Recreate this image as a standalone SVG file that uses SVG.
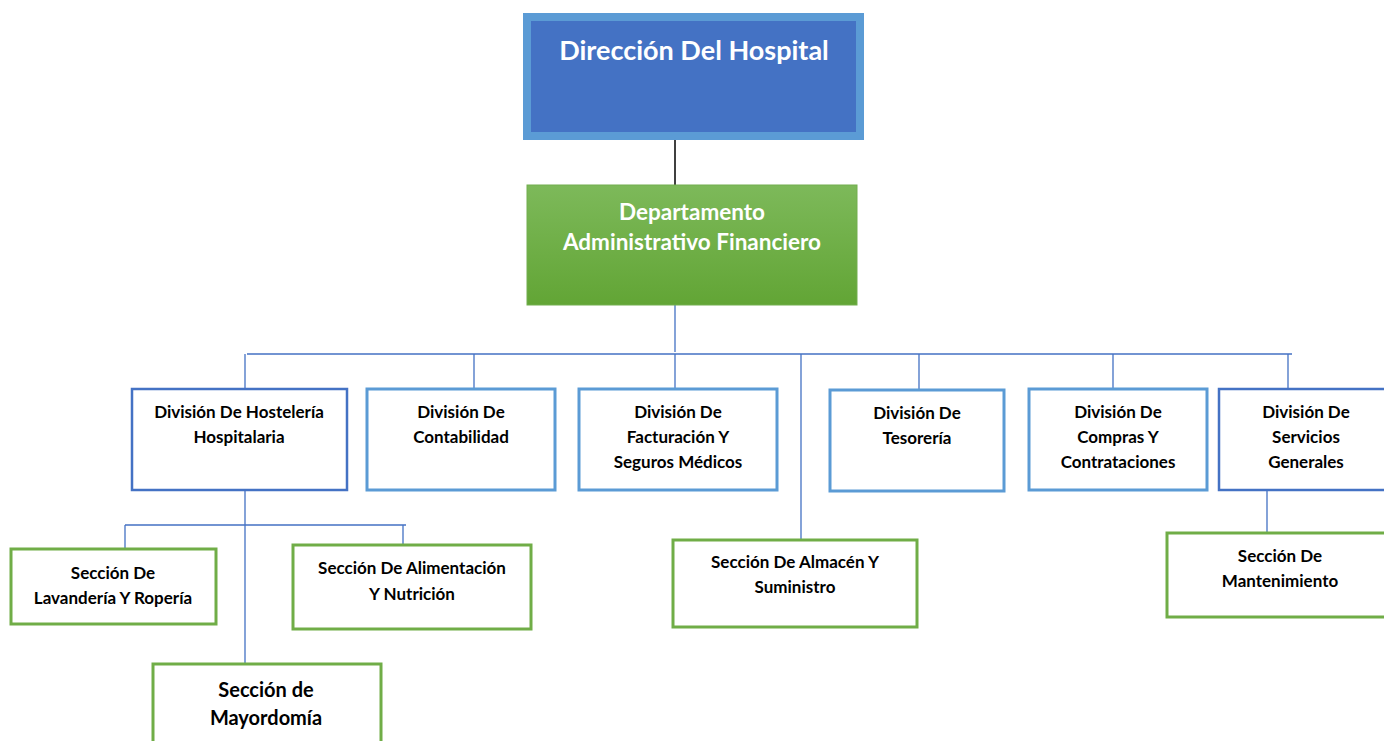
<svg xmlns="http://www.w3.org/2000/svg" width="1384" height="741" viewBox="0 0 1384 741">
<defs>
<linearGradient id="gGreen" x1="0" y1="0" x2="0" y2="1">
<stop offset="0" stop-color="#7DB95A"/>
<stop offset="1" stop-color="#62A535"/>
</linearGradient>
<style>
text{font-family:Lato,"Liberation Sans",sans-serif;font-weight:bold;text-anchor:middle;fill:#000}
.w{fill:#fff}
.div{fill:#fff;stroke:#5B9BD5;stroke-width:3}
.divd{fill:#fff;stroke:#4472C4;stroke-width:2.5}
.sec{fill:#fff;stroke:#70AD47;stroke-width:3}
.con{stroke:#4472C4;stroke-width:1.3;fill:none}
.t15{font-size:17px}
</style>
</defs>
<rect width="1384" height="741" fill="#fff"/>
<g id="connectors">
<line x1="675" y1="140" x2="675" y2="185" stroke="#000" stroke-width="1.5"/>
<path class="con" d="M675 305V352M247 354H1292M245 354V389M474 354V389M675 354V389M801 354V540M919 354V389M1113 354V389M1288 354V389"/>
<path class="con" d="M245 490V664M125 525H406M125 525V549M403 525V545M1267 487V533"/>
</g>
<g id="direccion">
<rect x="527" y="17" width="333" height="119" fill="#4472C4" stroke="#5B9BD5" stroke-width="8"/>
<text class="w" x="694" y="60" font-size="27">Dirección Del Hospital</text>
</g>
<g id="departamento">
<rect x="527" y="185" width="330" height="120" fill="url(#gGreen)" stroke="#72AE4F" stroke-width="1"/>
<text class="w" x="692" y="220" font-size="22.5">Departamento</text>
<text class="w" x="692" y="250" font-size="22.5">Administrativo Financiero</text>
</g>
<g id="div-hosteleria">
<rect class="divd" x="132" y="389" width="215" height="101"/>
<text class="t15" x="239" y="418">División De Hostelería</text>
<text class="t15" x="239" y="443">Hospitalaria</text>
</g>
<g id="div-contabilidad">
<rect class="div" x="367" y="389" width="188" height="101"/>
<text class="t15" x="461" y="418">División De</text>
<text class="t15" x="461" y="443">Contabilidad</text>
</g>
<g id="div-facturacion">
<rect class="div" x="579" y="389" width="198" height="101"/>
<text class="t15" x="678" y="418">División De</text>
<text class="t15" x="678" y="443">Facturación Y</text>
<text class="t15" x="678" y="468">Seguros Médicos</text>
</g>
<g id="div-tesoreria">
<rect class="div" x="830" y="390" width="174" height="101"/>
<text class="t15" x="917" y="419">División De</text>
<text class="t15" x="917" y="444">Tesorería</text>
</g>
<g id="div-compras">
<rect class="div" x="1029" y="389" width="178" height="101"/>
<text class="t15" x="1118" y="418">División De</text>
<text class="t15" x="1118" y="443">Compras Y</text>
<text class="t15" x="1118" y="468">Contrataciones</text>
</g>
<g id="div-servicios">
<rect class="divd" x="1219" y="389" width="180" height="101"/>
<text class="t15" x="1306" y="418">División De</text>
<text class="t15" x="1306" y="443">Servicios</text>
<text class="t15" x="1306" y="468">Generales</text>
</g>
<g id="sec-lavanderia">
<rect class="sec" x="11" y="549" width="205" height="75"/>
<text class="t15" x="113" y="579">Sección De</text>
<text class="t15" x="113" y="604">Lavandería Y Ropería</text>
</g>
<g id="sec-alimentacion">
<rect class="sec" x="293" y="545" width="238" height="84"/>
<text class="t15" x="412" y="574">Sección De Alimentación</text>
<text class="t15" x="412" y="600">Y Nutrición</text>
</g>
<g id="sec-mayordomia">
<rect class="sec" x="153" y="664" width="228" height="90"/>
<text x="266" y="697" font-size="20">Sección de</text>
<text x="266" y="725" font-size="20">Mayordomía</text>
</g>
<g id="sec-almacen">
<rect class="sec" x="673" y="540" width="244" height="87"/>
<text class="t15" x="795" y="568">Sección De Almacén Y</text>
<text class="t15" x="795" y="593">Suministro</text>
</g>
<g id="sec-mantenimiento">
<rect class="sec" x="1167" y="533" width="230" height="84"/>
<text class="t15" x="1280" y="562">Sección De</text>
<text class="t15" x="1280" y="587">Mantenimiento</text>
</g>
</svg>
